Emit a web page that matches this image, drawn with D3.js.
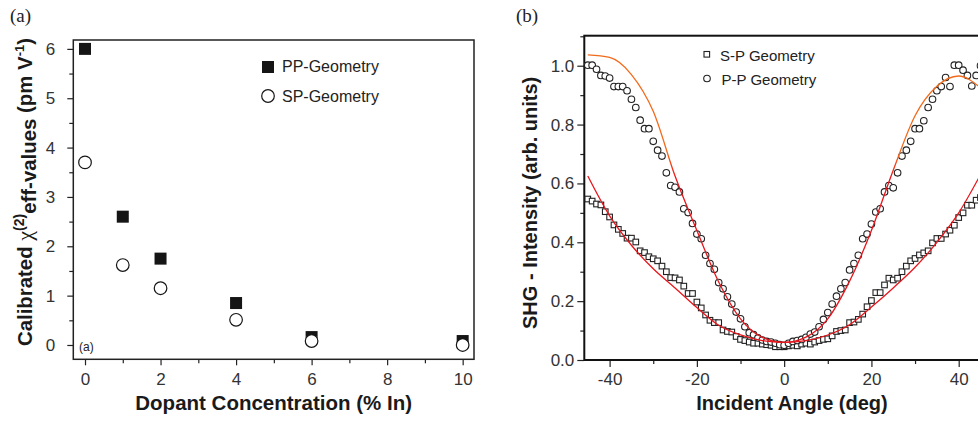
<!DOCTYPE html>
<html>
<head>
<meta charset="utf-8">
<script src="https://cdn.jsdelivr.net/npm/d3@7"></script>
<style>
  body { margin: 0; background: #fff; }
  svg { display: block; font-family: "Liberation Sans", Arial, sans-serif; }
</style>
</head>
<body>
<div id="chart"></div>
<script>
const W = 978, H = 423

// panel (a) data
const dopant = [0, 1, 2, 4, 6, 10]
const ppValues = [6.0, 2.6, 1.75, 0.85, 0.16, 0.08]
const spValues = [3.7, 1.62, 1.15, 0.51, 0.08, 0.0]

// panel (b) data, one point per degree
const angles = [-45,-44,-43,-42,-41,-40,-39,-38,-37,-36,-35,-34,-33,-32,-31,-30,-29,-28,-27,-26,-25,-24,-23,-22,-21,-20,-19,-18,-17,-16,-15,-14,-13,-12,-11,-10,-9,-8,-7,-6,-5,-4,-3,-2,-1,0,1,2,3,4,5,6,7,8,9,10,11,12,13,14,15,16,17,18,19,20,21,22,23,24,25,26,27,28,29,30,31,32,33,34,35,36,37,38,39,40,41,42,43,44,45]
const spGeom = [0.547,0.540,0.530,0.527,0.504,0.486,0.459,0.444,0.430,0.414,0.414,0.401,0.371,0.365,0.351,0.344,0.337,0.319,0.300,0.280,0.279,0.272,0.251,0.226,0.226,0.197,0.177,0.153,0.135,0.127,0.127,0.102,0.097,0.095,0.080,0.070,0.066,0.061,0.057,0.057,0.054,0.052,0.050,0.045,0.045,0.045,0.048,0.050,0.048,0.054,0.057,0.054,0.061,0.066,0.070,0.072,0.082,0.097,0.100,0.102,0.127,0.129,0.138,0.156,0.181,0.202,0.229,0.229,0.255,0.278,0.272,0.278,0.300,0.319,0.337,0.345,0.357,0.364,0.371,0.398,0.413,0.413,0.428,0.441,0.458,0.484,0.500,0.526,0.526,0.543,0.552]
const ppGeom = [1.002,1.002,0.988,0.967,0.965,0.958,0.929,0.929,0.929,0.915,0.886,0.858,0.815,0.786,0.786,0.743,0.713,0.693,0.636,0.593,0.587,0.571,0.514,0.501,0.464,0.428,0.412,0.356,0.328,0.308,0.263,0.242,0.215,0.190,0.163,0.140,0.113,0.093,0.086,0.075,0.068,0.063,0.061,0.057,0.052,0.050,0.057,0.063,0.066,0.070,0.077,0.088,0.095,0.113,0.138,0.161,0.190,0.217,0.242,0.263,0.306,0.328,0.356,0.412,0.428,0.462,0.503,0.514,0.571,0.593,0.585,0.636,0.693,0.713,0.743,0.786,0.786,0.813,0.858,0.886,0.915,0.929,0.960,0.929,1.002,1.002,0.985,0.967,0.931,0.967,1.000]

// fit curves read every 5 deg
const fitAngles = [-45,-40,-35,-30,-25,-20,-15,-10,-5,0,5,10,15,20,25,30,35,40,45]
const spFit = [0.625,0.49,0.39,0.31,0.245,0.178,0.118,0.085,0.066,0.06,0.066,0.085,0.12,0.18,0.245,0.315,0.40,0.50,0.63]
const ppFit = [1.037,1.028,0.97,0.845,0.625,0.44,0.265,0.14,0.077,0.06,0.078,0.14,0.268,0.44,0.645,0.83,0.93,0.965,0.925]

const svg = d3.select("#chart").append("svg")
    .attr("width", W).attr("height", H)

const tickColor = "#333"

function styleAxis(g, fs) {
  g.select(".domain").remove()
  g.selectAll(".tick line").attr("stroke", "#222").attr("stroke-width", 1.2)
  g.selectAll(".tick text").attr("fill", tickColor).attr("font-size", fs)
      .attr("font-family", "Liberation Sans, Arial, sans-serif")
}
const plain = d => String(d)

// ---------------- panel (a)
const A = {L: 73.3, R: 474, T: 40, B: 359.3}
const xa = d3.scaleLinear().domain([-0.31, 10.3]).range([A.L, A.R])
const ya = d3.scaleLinear().domain([-0.29, 6.18]).range([A.B, A.T])

svg.append("g").attr("transform", `translate(0,${A.B})`)
    .call(d3.axisBottom(xa).tickValues([1,3,5,7,9]).tickSize(4).tickFormat(""))
    .call(g => styleAxis(g, 17))
svg.append("g").attr("transform", `translate(0,${A.B})`)
    .call(d3.axisBottom(xa).tickValues([0,2,4,6,8,10]).tickSize(6).tickPadding(8).tickFormat(plain))
    .call(g => styleAxis(g, 17))
svg.append("g").attr("transform", `translate(${A.L},0)`)
    .call(d3.axisLeft(ya).tickValues([0.5,1.5,2.5,3.5,4.5,5.5]).tickSize(4).tickFormat(""))
    .call(g => styleAxis(g, 17))
svg.append("g").attr("transform", `translate(${A.L},0)`)
    .call(d3.axisLeft(ya).tickValues([0,1,2,3,4,5,6]).tickSize(6).tickPadding(12).tickFormat(plain))
    .call(g => styleAxis(g, 17))

svg.append("rect")
    .attr("x", A.L).attr("y", A.T)
    .attr("width", A.R - A.L).attr("height", A.B - A.T)
    .attr("fill", "none").attr("stroke", "#222").attr("stroke-width", 1.5)

svg.selectAll("rect.pp").data(dopant).enter().append("rect")
    .attr("class", "pp")
    .attr("x", d => xa(d) - 6)
    .attr("y", (d, i) => ya(ppValues[i]) - 6)
    .attr("width", 12).attr("height", 12)
    .attr("fill", "#151515")

svg.selectAll("circle.sp").data(dopant).enter().append("circle")
    .attr("class", "sp")
    .attr("cx", d => xa(d))
    .attr("cy", (d, i) => ya(spValues[i]))
    .attr("r", 6.3)
    .attr("fill", "#fff").attr("stroke", "#151515").attr("stroke-width", 1.2)

// legend (a)
svg.append("rect").attr("x", 262).attr("y", 61).attr("width", 12).attr("height", 12).attr("fill", "#151515")
svg.append("text").attr("x", 282).attr("y", 72).attr("font-size", 16).attr("fill", "#222")
    .text("PP-Geometry")
svg.append("circle").attr("cx", 268).attr("cy", 96).attr("r", 6.3)
    .attr("fill", "#fff").attr("stroke", "#151515").attr("stroke-width", 1.2)
svg.append("text").attr("x", 282).attr("y", 102).attr("font-size", 16).attr("fill", "#222")
    .text("SP-Geometry")

svg.append("text").attr("x", 79).attr("y", 351).attr("font-size", 12).attr("fill", "#222").text("(a)")

svg.append("text").attr("x", 10).attr("y", 22)
    .attr("font-family", "Liberation Serif, Times New Roman, serif").attr("font-size", 19)
    .attr("fill", "#222").text("(a)")

svg.append("text")
    .attr("x", (A.L + A.R) / 2).attr("y", 410)
    .attr("text-anchor", "middle").attr("font-size", 20.5).attr("font-weight", "bold")
    .attr("fill", "#1a1a1a")
    .text("Dopant Concentration (% In)")

const yta = svg.append("text")
    .attr("transform", "translate(32,192) rotate(-90)")
    .attr("text-anchor", "middle").attr("font-size", 20.4).attr("font-weight", "bold")
    .attr("fill", "#1a1a1a")
yta.append("tspan").text("Calibrated ")
yta.append("tspan").attr("font-family", "Liberation Serif, serif").attr("font-weight", "normal")
    .attr("font-size", 22).text("\u03c7")
yta.append("tspan").attr("font-size", 14).attr("dy", -8).text("(2)")
yta.append("tspan").attr("dy", 12).text("eff-values")
yta.append("tspan").attr("dy", -4).text(" (pm V")
yta.append("tspan").attr("font-size", 13).attr("dy", -8).text("-1")
yta.append("tspan").attr("dy", 8).text(")")

// ---------------- panel (b)
const B = {L: 584.3, R: 984, T: 35.7, B: 360}
const xb = d3.scaleLinear().domain([-45.8, 45.8]).range([B.L, B.R])
const yb = d3.scaleLinear().domain([0, 1.102]).range([B.B, B.T])

svg.append("g").attr("transform", `translate(0,${B.B})`)
    .call(d3.axisBottom(xb).tickValues([-30,-10,10,30]).tickSize(4).tickFormat(""))
    .call(g => styleAxis(g, 17))
svg.append("g").attr("transform", `translate(0,${B.B})`)
    .call(d3.axisBottom(xb).tickValues([-40,-20,0,20,40]).tickSize(7).tickPadding(6).tickFormat(plain))
    .call(g => styleAxis(g, 17))
svg.append("g").attr("transform", `translate(${B.L},0)`)
    .call(d3.axisLeft(yb).tickValues([0.1,0.3,0.5,0.7,0.9,1.1]).tickSize(4).tickFormat(""))
    .call(g => styleAxis(g, 17))
svg.append("g").attr("transform", `translate(${B.L},0)`)
    .call(d3.axisLeft(yb).tickValues([0,0.2,0.4,0.6,0.8,1.0]).tickSize(7).tickPadding(3)
      .tickFormat(d3.format(".1f")))
    .call(g => styleAxis(g, 17))

svg.append("rect")
    .attr("x", B.L).attr("y", B.T)
    .attr("width", B.R - B.L).attr("height", B.B - B.T)
    .attr("fill", "none").attr("stroke", "#111").attr("stroke-width", 2)

svg.selectAll("rect.spb").data(angles).enter().append("rect")
    .attr("class", "spb")
    .attr("x", d => xb(d) - 2.8)
    .attr("y", (d, i) => yb(spGeom[i]) - 2.8)
    .attr("width", 5.6).attr("height", 5.6)
    .attr("fill", "#fff").attr("stroke", "#222").attr("stroke-width", 1.1)

svg.selectAll("circle.ppb").data(angles).enter().append("circle")
    .attr("class", "ppb")
    .attr("cx", d => xb(d))
    .attr("cy", (d, i) => yb(ppGeom[i]))
    .attr("r", 3.3)
    .attr("fill", "#fff").attr("stroke", "#222").attr("stroke-width", 1.1)

const defs = svg.append("defs")
const grad = defs.append("linearGradient").attr("id", "fitGrad")
    .attr("gradientUnits", "userSpaceOnUse")
    .attr("x1", 0).attr("x2", 0).attr("y1", yb(0.62)).attr("y2", yb(0.7))
grad.append("stop").attr("offset", 0).attr("stop-color", "#e8161c")
grad.append("stop").attr("offset", 1).attr("stop-color", "#f26a1b")

const fitLine = d3.line()
    .x(d => xb(d[0])).y(d => yb(d[1]))
    .curve(d3.curveMonotoneX)

svg.append("path")
    .attr("d", fitLine(fitAngles.map((a, i) => [a, spFit[i]])))
    .attr("fill", "none").attr("stroke", "#e8161c").attr("stroke-width", 1.3)
svg.append("path")
    .attr("d", fitLine(fitAngles.map((a, i) => [a, ppFit[i]])))
    .attr("fill", "none").attr("stroke", "url(#fitGrad)").attr("stroke-width", 1.3)

// legend (b)
svg.append("rect").attr("x", 704).attr("y", 51.5).attr("width", 5.6).attr("height", 5.6)
    .attr("fill", "#fff").attr("stroke", "#222").attr("stroke-width", 1.1)
svg.append("text").attr("x", 720).attr("y", 61).attr("font-size", 15).attr("fill", "#222")
    .text("S-P Geometry")
svg.append("circle").attr("cx", 707).attr("cy", 78.5).attr("r", 3.3)
    .attr("fill", "#fff").attr("stroke", "#222").attr("stroke-width", 1.1)
svg.append("text").attr("x", 721.5).attr("y", 85).attr("font-size", 15).attr("fill", "#222")
    .text("P-P Geometry")

svg.append("text").attr("x", 516).attr("y", 22)
    .attr("font-family", "Liberation Serif, Times New Roman, serif").attr("font-size", 19)
    .attr("fill", "#222").text("(b)")

svg.append("text")
    .attr("x", 792).attr("y", 410)
    .attr("text-anchor", "middle").attr("font-size", 20).attr("font-weight", "bold")
    .attr("fill", "#1a1a1a")
    .text("Incident Angle (deg)")

svg.append("text")
    .attr("transform", `translate(537,${(B.T + B.B) / 2 + 5}) rotate(-90)`)
    .attr("text-anchor", "middle").attr("font-size", 20).attr("font-weight", "bold")
    .attr("fill", "#1a1a1a")
    .text("SHG - Intensity (arb. units)")
</script>
</body>
</html>
